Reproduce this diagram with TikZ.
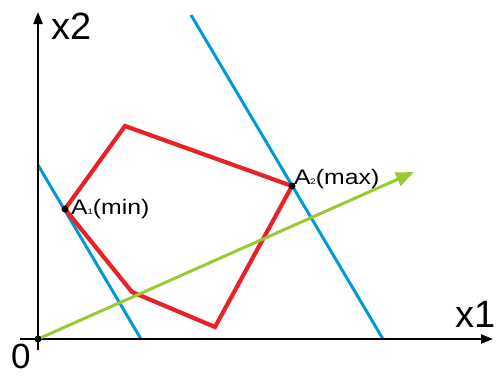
\documentclass[tikz,border=0pt]{standalone}
\usepackage{fontspec}
\setmainfont{Liberation Sans}
\usetikzlibrary{arrows.meta}
\definecolor{pred}{RGB}{232,34,40}
\definecolor{pblue}{RGB}{0,152,218}
\definecolor{pgreen}{RGB}{152,202,50}
\newcommand{\ptsub}[1]{{\fontsize{8}{8}\selectfont #1}}
\begin{document}
\begin{tikzpicture}[x=1pt,y=-1pt,
  axis/.style={line width=2.2pt,-{Triangle[length=12pt,width=9pt]}},
  edge/.style={pred,line width=4.2pt,line join=miter},
  bline/.style={pblue,line width=3pt},
  gline/.style={pgreen,line width=3pt,-{Triangle[length=18pt,width=14pt]}},
  dot/.style={circle,fill=black,inner sep=0pt,minimum size=7pt},
  biglab/.style={font=\fontsize{38}{38}\selectfont,inner sep=0pt},
  ptlab/.style={font=\fontsize{21}{21}\selectfont,inner sep=0pt,anchor=base west}]
\useasboundingbox (0,0) rectangle (498,375);
\coordinate (O) at (38,339);
\coordinate (ya) at (38,350);
\coordinate (yb) at (38,12);
\coordinate (xa) at (20,339);
\coordinate (xb) at (493,339);
\coordinate (P1) at (125,126);
\coordinate (P3) at (215,327);
\coordinate (P4) at (132,292);
\coordinate (L1) at (38,165);
\coordinate (L2) at (141,339);
\coordinate (R1) at (191,15);
\coordinate (R2) at (383,339);
\coordinate (G) at (414,172);
% blue lines
\draw[bline] (L1) -- (L2);
\draw[bline] (R1) -- (R2);
% polygon
\node[dot,opacity=0] (A1) at (65,209) {};
\node[dot,opacity=0] (A2) at (292,186) {};
\draw[edge] (A1.center) -- (P1) -- (A2.center) -- (P3) -- (P4) -- cycle;
% axes
\draw[axis] (ya) -- (yb);
\draw[axis] (xa) -- (xb);
% green arrow
\draw[gline] (O) -- (G);
\node[dot] (O1) at (O) {};
\node[dot] (D1) at (A1) {};
\node[dot] (D2) at (A2) {};
% labels
\node[biglab,anchor=north west] (lx2) at (51,13) {x2};
\node[biglab,anchor=north west] (lx1) at (455,301) {x1};
\node[biglab,font=\fontsize{35}{35}\selectfont,anchor=base west] (l0) at (11,368) {0};
\node[ptlab] (t1) at (71,214) {\scalebox{1.18}[1]{A\ptsub{1}(min)}};
\node[ptlab] (t2) at (294,184) {\scalebox{1.18}[1]{A\ptsub{2}(max)}};
\end{tikzpicture}
\end{document}
